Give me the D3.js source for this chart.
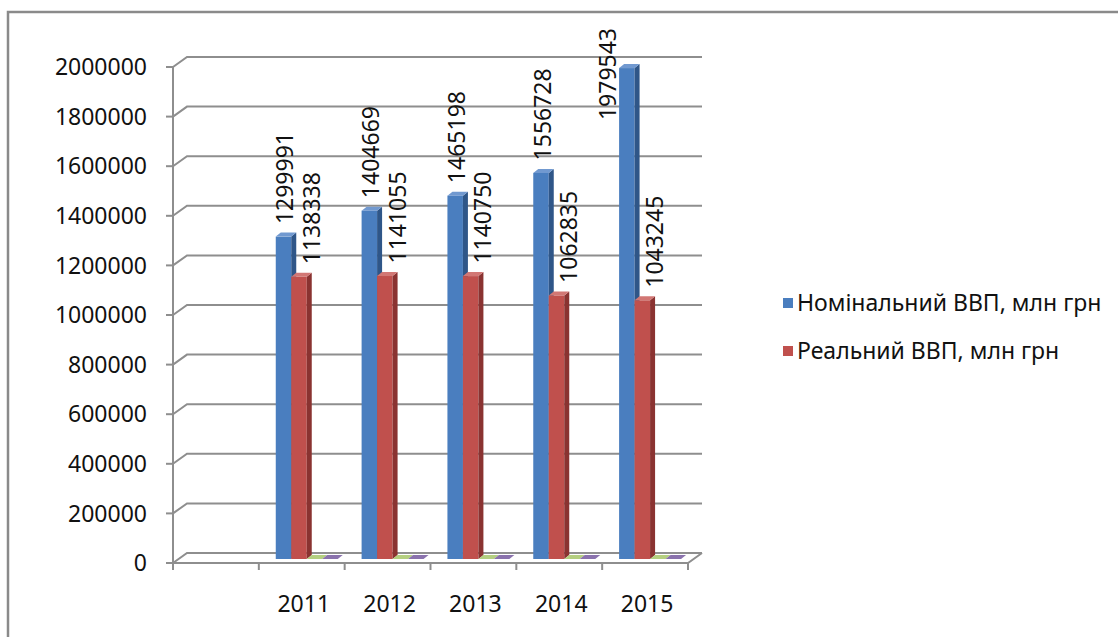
<!DOCTYPE html>
<html>
<head>
<meta charset="utf-8">
<script src="https://cdn.jsdelivr.net/npm/d3@7"></script>
<style>
  body { margin: 0; background: #fff; }
  svg { display: block; font-family: "Noto Sans", sans-serif; }
</style>
</head>
<body>
<svg id="chart" width="1118" height="637"></svg>
<script>
// data
const years = ["2011", "2012", "2013", "2014", "2015"];
const nominal = [1299991, 1404669, 1465198, 1556728, 1979543];
const real = [1138338, 1141055, 1140750, 1062835, 1043245];
// two empty series that Excel still draws as flat slivers
const emptyA = [0, 0, 0, 0, 0];
const emptyB = [0, 0, 0, 0, 0];
const legendNames = ["Номінальний ВВП, млн грн", "Реальний ВВП, млн грн"];
const yTicks = [0, 200000, 400000, 600000, 800000, 1000000, 1200000, 1400000, 1600000, 1800000, 2000000];

const svg = d3.select("#chart");

// chart border
svg.append("rect")
  .attr("x", 8).attr("y", 12)
  .attr("width", 1130).attr("height", 650)
  .attr("fill", "#fff")
  .attr("stroke", "#8a8a8a")
  .attr("stroke-width", 2.5);

const plot = { left: 173, right: 688, top: 67, bottom: 563 };
const wall = { dx: 14, dy: -10 };     // depth of side wall / floor
const barOff = { dx: 5, dy: -4 };     // where bars stand inside the box
const barDepth = { dx: 5, dy: -4 };

// first slot on the category axis is empty in the original
const xScale = d3.scaleBand()
  .domain(["", ...years])
  .range([plot.left, plot.right]);

const inner = d3.scaleBand()
  .domain([0, 1, 2, 3])
  .range([0, xScale.bandwidth()])
  .paddingOuter(0.77);

const yScale = d3.scaleLinear()
  .domain([0, 2000000])
  .range([plot.bottom, plot.top]);

const grid = svg.append("g")
  .attr("fill", "none")
  .attr("stroke", "#8e8e8e")
  .attr("stroke-width", 2);

// gridlines on the side wall and back wall
yTicks.forEach(t => {
  const y = yScale(t);
  grid.append("path")
    .attr("d", `M${plot.left},${y}L${plot.left + wall.dx},${y + wall.dy}L${plot.right + wall.dx},${y + wall.dy}`);
});

// floor front and right edge
grid.append("path")
  .attr("d", `M${plot.left},${plot.bottom}L${plot.right},${plot.bottom}L${plot.right + wall.dx},${plot.bottom + wall.dy}`);

// value axis
grid.append("path").attr("d", `M${plot.left},${plot.top}L${plot.left},${plot.bottom}`);
yTicks.forEach(t => {
  grid.append("path").attr("d", `M${plot.left - 7},${yScale(t)}L${plot.left},${yScale(t)}`);
});

// category ticks
const bounds = ["", ...years].map(c => xScale(c)).concat([plot.right]);
bounds.forEach(x => {
  grid.append("path").attr("d", `M${x},${plot.bottom}L${x},${plot.bottom + 7}`);
});

svg.append("g").selectAll("text")
  .data(yTicks)
  .enter().append("text")
  .attr("x", 147)
  .attr("y", d => yScale(d))
  .attr("dy", "0.36em")
  .attr("text-anchor", "end")
  .attr("font-size", 23)
  .attr("fill", "#111")
  .text(d => d);

svg.append("g").selectAll("text")
  .data(years)
  .enter().append("text")
  .attr("x", d => xScale(d) + xScale.bandwidth() / 2 + 2)
  .attr("y", 604)
  .attr("dy", "0.36em")
  .attr("text-anchor", "middle")
  .attr("font-size", 23)
  .attr("fill", "#111")
  .text(d => d);

// bars: front, side and top faces
const series = [
  { values: nominal, front: "#4a7ebf", side: "#2f5688", top: "#7199d0", labelDx: 1.5 },
  { values: real, front: "#c0504d", side: "#8a3331", top: "#d27774", labelDx: 12.5 },
  { values: emptyA, front: "#9bbb59", side: "#6f8a3c", top: "#b4cf80" },
  { values: emptyB, front: "#8064a2", side: "#5c4779", top: "#8a72ad" }
];

const bars = svg.append("g");
const labels = svg.append("g");

years.forEach((yr, i) => {
  series.forEach((s, k) => {
    const v = s.values[i];
    const w = inner.bandwidth();
    const x0 = xScale(yr) + inner(k) + barOff.dx;
    const base = yScale(0) + barOff.dy;
    const top = yScale(v) + barOff.dy;

    bars.append("rect")
      .attr("x", x0).attr("y", top)
      .attr("width", w).attr("height", base - top)
      .attr("fill", s.front);
    bars.append("path")
      .attr("d", `M${x0 + w},${top}L${x0 + w + barDepth.dx},${top + barDepth.dy}L${x0 + w + barDepth.dx},${base + barDepth.dy}L${x0 + w},${base}Z`)
      .attr("fill", s.side);
    bars.append("path")
      .attr("d", `M${x0},${top}L${x0 + w},${top}L${x0 + w + barDepth.dx},${top + barDepth.dy}L${x0 + barDepth.dx},${top + barDepth.dy}Z`)
      .attr("fill", s.top);

    if (k < 2) {
      const fontSize = 23;
      const len = String(v).length * 0.572 * fontSize;
      let lx = x0 + w / 2 + s.labelDx;
      let ly = yScale(v) - 16.5;
      // keep the label inside the chart area like Excel does
      if (ly - len < 28) {
        ly = 28 + len;
        lx = x0 - 11;
      }
      labels.append("text")
        .attr("transform", `translate(${lx},${ly}) rotate(-90)`)
        .attr("dy", "0.36em")
        .attr("font-size", fontSize)
        .attr("fill", "#111")
        .text(v);
    }
  });
});

// legend
const legend = svg.append("g");
legendNames.forEach((name, i) => {
  const y = 303 + i * 48;
  legend.append("rect")
    .attr("x", 783).attr("y", y - 5)
    .attr("width", 10).attr("height", 10)
    .attr("fill", series[i].front);
  legend.append("text")
    .attr("x", 797).attr("y", y)
    .attr("dy", "0.36em")
    .attr("font-size", 23)
    .attr("fill", "#111")
    .text(name);
});
</script>
</body>
</html>
